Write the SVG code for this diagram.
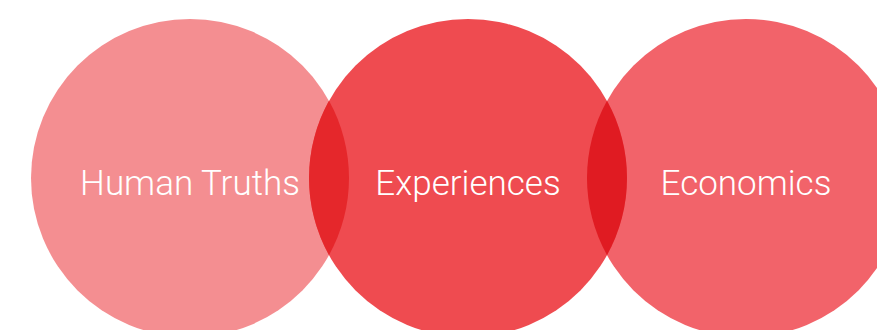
<svg xmlns="http://www.w3.org/2000/svg" width="877" height="330" viewBox="0 0 877 330">
<style>
.lbl{font-family:Roboto,"Liberation Sans",sans-serif;font-weight:300;font-size:35px;fill:#ffffff;text-anchor:middle}
</style>
<rect width="877" height="330" fill="#ffffff"/>
<g id="human-truths">
<circle cx="190" cy="178" r="159" fill="#F48E91"/>
</g>
<g id="economics">
<circle cx="746" cy="178" r="159" fill="#F2636A"/>
</g>
<g id="experiences">
<circle cx="468" cy="178" r="159" fill="#EF4B50"/>
</g>
<g id="overlaps">
<path d="M329,100.8 A159,159 0 0 1 329,255.2 A159,159 0 0 1 329,100.8 Z" fill="#E5272B"/>
<path d="M607,100.8 A159,159 0 0 1 607,255.2 A159,159 0 0 1 607,100.8 Z" fill="#E01B22"/>
</g>
<g id="labels">
<text class="lbl" x="190" y="195">Human Truths</text>
<text class="lbl" x="468" y="195">Experiences</text>
<text class="lbl" x="746" y="195">Economics</text>
</g>
</svg>
